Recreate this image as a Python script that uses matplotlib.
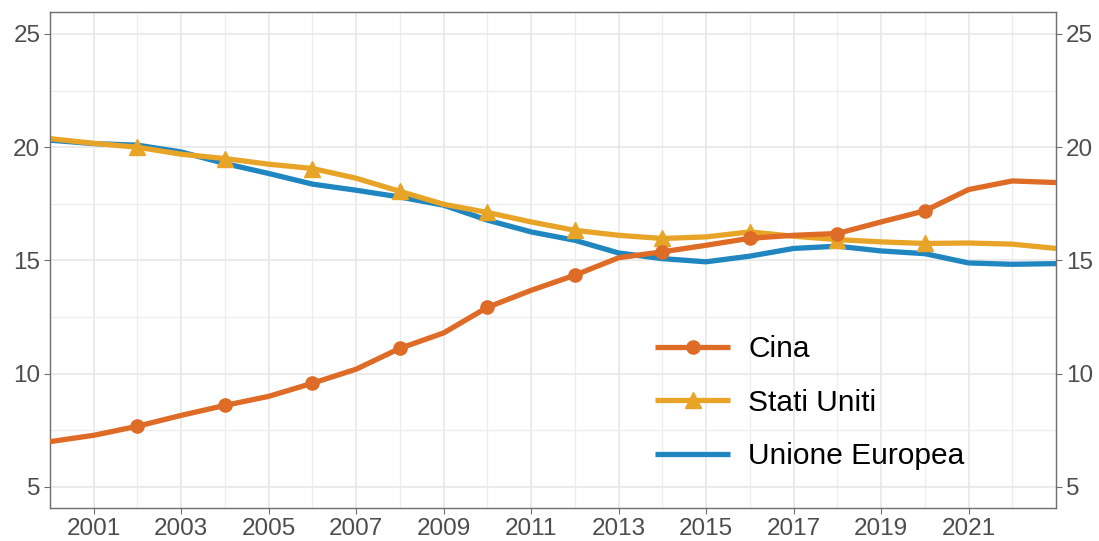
import numpy as np
import matplotlib
matplotlib.use("Agg")
import matplotlib.pyplot as plt
from matplotlib.ticker import MultipleLocator

plt.rcParams['font.family'] = ['Liberation Sans', 'DejaVu Sans']

years = list(range(2000, 2024))
cina = [7.0, 7.28, 7.68, 8.16, 8.6, 9.0, 9.58, 10.2, 11.12, 11.8, 12.93, 13.68,
        14.35, 15.12, 15.38, 15.67, 15.98, 16.11, 16.19, 16.7, 17.19, 18.13, 18.51, 18.44]
stati_uniti = [20.38, 20.17, 20.0, 19.69, 19.5, 19.25, 19.06, 18.63, 18.05, 17.48, 17.12, 16.7,
               16.33, 16.11, 15.97, 16.04, 16.26, 16.07, 15.92, 15.82, 15.75, 15.77, 15.72, 15.53]
unione_europea = [20.31, 20.16, 20.09, 19.79, 19.28, 18.84, 18.37, 18.1, 17.8, 17.44, 16.78, 16.26,
                  15.89, 15.33, 15.08, 14.94, 15.19, 15.53, 15.63, 15.42, 15.3, 14.89, 14.83, 14.86]
marker_years = list(range(2002, 2021, 2))

c_cina = '#DE6B26'
c_usa = '#E8A427'
c_ue = '#2086C0'

fig = plt.figure(figsize=(10.99, 5.41), dpi=100)
ax = fig.add_axes([50/1099, 33/541, 1006/1099, 496/541])

idx = [years.index(y) for y in marker_years]
ax.plot(years, cina, color=c_cina, lw=3.8, marker='o', markersize=9.5, markevery=idx,
        label='Cina', solid_capstyle='butt', zorder=3)
ax.plot(years, stati_uniti, color=c_usa, lw=3.8, marker='^', markersize=11, markevery=idx,
        label='Stati Uniti', solid_capstyle='butt', zorder=2)
ax.plot(years, unione_europea, color=c_ue, lw=3.8, label='Unione Europea',
        solid_capstyle='butt', zorder=1)

ax.set_xlim(2000, 2023)
ax.set_ylim(4.07, 25.97)
ax.set_xticks(range(2001, 2023, 2))
ax.xaxis.set_minor_locator(MultipleLocator(1))
ax.set_yticks([5, 10, 15, 20, 25])
ax.yaxis.set_minor_locator(MultipleLocator(2.5))
ax.grid(which='major', color='#E6E6E6', lw=1.1)
ax.grid(which='minor', color='#EDEDED', lw=0.9)
ax.set_axisbelow(True)

for s in ax.spines.values():
    s.set_color('#6E6E6E')
    s.set_linewidth(1.0)
ax.tick_params(which='major', length=4, color='#6E6E6E', labelsize=17.5, labelcolor='#4D4D4D',
               left=True, right=True, labelleft=True, labelright=True, pad=3)
ax.tick_params(which='minor', length=0)

ax.legend(loc='center left', bbox_to_anchor=(0.587, 0.212), frameon=False, fontsize=21.5,
          handlelength=2.5, handletextpad=0.6, labelspacing=0.85, borderpad=0)

fig.savefig('out.png', dpi=100)
